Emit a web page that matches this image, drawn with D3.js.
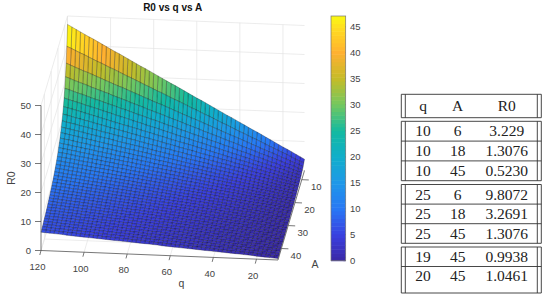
<!DOCTYPE html>
<html>
<head>
<meta charset="utf-8">
<title>R0 vs q vs A</title>
<script src="https://d3js.org/d3.v7.min.js"></script>
<style>
  html, body { margin: 0; padding: 0; background: #fff; }
  svg { display: block; }
</style>
</head>
<body>
<div id="chart"></div>
<script>
const qValues = [10,12,14,16,18,20,22,24,26,28,30,32,34,36,38,40,42,44,46,48,50,52,54,56,58,60,62,64,66,68,70,72,74,76,78,80,82,84,86,88,90,92,94,96,98,100,102,104,106,108,110,112,114,116,118,120];
const aValues = [6,7,8,9,10,11,12,13,14,15,16,17,18,19,20,21,22,23,24,25,26,27,28,29,30,31,32,33,34,35,36,37,38,39,40,41,42,43,44,45];
// one row per A value, one column per q value
const r0Rows = [
[3.9,4.7,5.5,6.3,7.1,7.8,8.6,9.4,10.2,11.0,11.8,12.6,13.3,14.1,14.9,15.7,16.5,17.3,18.0,18.8,19.6,20.4,21.2,22.0,22.8,23.5,24.3,25.1,25.9,26.7,27.5,28.2,29.0,29.8,30.6,31.4,32.2,33.0,33.7,34.5,35.3,36.1,36.9,37.7,38.4,39.2,40.0,40.8,41.6,42.4,43.1,43.9,44.7,45.5,46.3,47.1],
[3.4,4.0,4.7,5.4,6.1,6.7,7.4,8.1,8.7,9.4,10.1,10.8,11.4,12.1,12.8,13.4,14.1,14.8,15.5,16.1,16.8,17.5,18.2,18.8,19.5,20.2,20.8,21.5,22.2,22.9,23.5,24.2,24.9,25.6,26.2,26.9,27.6,28.2,28.9,29.6,30.3,30.9,31.6,32.3,33.0,33.6,34.3,35.0,35.6,36.3,37.0,37.7,38.3,39.0,39.7,40.3],
[2.9,3.5,4.1,4.7,5.3,5.9,6.5,7.1,7.6,8.2,8.8,9.4,10.0,10.6,11.2,11.8,12.4,12.9,13.5,14.1,14.7,15.3,15.9,16.5,17.1,17.7,18.2,18.8,19.4,20.0,20.6,21.2,21.8,22.4,22.9,23.5,24.1,24.7,25.3,25.9,26.5,27.1,27.7,28.2,28.8,29.4,30.0,30.6,31.2,31.8,32.4,32.9,33.5,34.1,34.7,35.3],
[2.6,3.1,3.7,4.2,4.7,5.2,5.8,6.3,6.8,7.3,7.8,8.4,8.9,9.4,9.9,10.5,11.0,11.5,12.0,12.6,13.1,13.6,14.1,14.6,15.2,15.7,16.2,16.7,17.3,17.8,18.3,18.8,19.4,19.9,20.4,20.9,21.4,22.0,22.5,23.0,23.5,24.1,24.6,25.1,25.6,26.2,26.7,27.2,27.7,28.2,28.8,29.3,29.8,30.3,30.9,31.4],
[2.4,2.8,3.3,3.8,4.2,4.7,5.2,5.6,6.1,6.6,7.1,7.5,8.0,8.5,8.9,9.4,9.9,10.4,10.8,11.3,11.8,12.2,12.7,13.2,13.7,14.1,14.6,15.1,15.5,16.0,16.5,16.9,17.4,17.9,18.4,18.8,19.3,19.8,20.2,20.7,21.2,21.7,22.1,22.6,23.1,23.5,24.0,24.5,24.9,25.4,25.9,26.4,26.8,27.3,27.8,28.2],
[2.1,2.6,3.0,3.4,3.9,4.3,4.7,5.1,5.6,6.0,6.4,6.8,7.3,7.7,8.1,8.6,9.0,9.4,9.8,10.3,10.7,11.1,11.6,12.0,12.4,12.8,13.3,13.7,14.1,14.5,15.0,15.4,15.8,16.3,16.7,17.1,17.5,18.0,18.4,18.8,19.3,19.7,20.1,20.5,21.0,21.4,21.8,22.3,22.7,23.1,23.5,24.0,24.4,24.8,25.2,25.7],
[2.0,2.4,2.7,3.1,3.5,3.9,4.3,4.7,5.1,5.5,5.9,6.3,6.7,7.1,7.5,7.8,8.2,8.6,9.0,9.4,9.8,10.2,10.6,11.0,11.4,11.8,12.2,12.6,12.9,13.3,13.7,14.1,14.5,14.9,15.3,15.7,16.1,16.5,16.9,17.3,17.7,18.0,18.4,18.8,19.2,19.6,20.0,20.4,20.8,21.2,21.6,22.0,22.4,22.8,23.1,23.5],
[1.8,2.2,2.5,2.9,3.3,3.6,4.0,4.3,4.7,5.1,5.4,5.8,6.2,6.5,6.9,7.2,7.6,8.0,8.3,8.7,9.1,9.4,9.8,10.1,10.5,10.9,11.2,11.6,11.9,12.3,12.7,13.0,13.4,13.8,14.1,14.5,14.8,15.2,15.6,15.9,16.3,16.7,17.0,17.4,17.7,18.1,18.5,18.8,19.2,19.6,19.9,20.3,20.6,21.0,21.4,21.7],
[1.7,2.0,2.4,2.7,3.0,3.4,3.7,4.0,4.4,4.7,5.0,5.4,5.7,6.1,6.4,6.7,7.1,7.4,7.7,8.1,8.4,8.7,9.1,9.4,9.8,10.1,10.4,10.8,11.1,11.4,11.8,12.1,12.4,12.8,13.1,13.4,13.8,14.1,14.5,14.8,15.1,15.5,15.8,16.1,16.5,16.8,17.1,17.5,17.8,18.2,18.5,18.8,19.2,19.5,19.8,20.2],
[1.6,1.9,2.2,2.5,2.8,3.1,3.5,3.8,4.1,4.4,4.7,5.0,5.3,5.6,6.0,6.3,6.6,6.9,7.2,7.5,7.8,8.2,8.5,8.8,9.1,9.4,9.7,10.0,10.4,10.7,11.0,11.3,11.6,11.9,12.2,12.6,12.9,13.2,13.5,13.8,14.1,14.4,14.7,15.1,15.4,15.7,16.0,16.3,16.6,16.9,17.3,17.6,17.9,18.2,18.5,18.8],
[1.5,1.8,2.1,2.4,2.6,2.9,3.2,3.5,3.8,4.1,4.4,4.7,5.0,5.3,5.6,5.9,6.2,6.5,6.8,7.1,7.4,7.6,7.9,8.2,8.5,8.8,9.1,9.4,9.7,10.0,10.3,10.6,10.9,11.2,11.5,11.8,12.1,12.4,12.7,12.9,13.2,13.5,13.8,14.1,14.4,14.7,15.0,15.3,15.6,15.9,16.2,16.5,16.8,17.1,17.4,17.7],
[1.4,1.7,1.9,2.2,2.5,2.8,3.0,3.3,3.6,3.9,4.2,4.4,4.7,5.0,5.3,5.5,5.8,6.1,6.4,6.6,6.9,7.2,7.5,7.8,8.0,8.3,8.6,8.9,9.1,9.4,9.7,10.0,10.2,10.5,10.8,11.1,11.4,11.6,11.9,12.2,12.5,12.7,13.0,13.3,13.6,13.8,14.1,14.4,14.7,15.0,15.2,15.5,15.8,16.1,16.3,16.6],
[1.3,1.6,1.8,2.1,2.4,2.6,2.9,3.1,3.4,3.7,3.9,4.2,4.4,4.7,5.0,5.2,5.5,5.8,6.0,6.3,6.5,6.8,7.1,7.3,7.6,7.8,8.1,8.4,8.6,8.9,9.2,9.4,9.7,9.9,10.2,10.5,10.7,11.0,11.2,11.5,11.8,12.0,12.3,12.6,12.8,13.1,13.3,13.6,13.9,14.1,14.4,14.6,14.9,15.2,15.4,15.7],
[1.2,1.5,1.7,2.0,2.2,2.5,2.7,3.0,3.2,3.5,3.7,4.0,4.2,4.5,4.7,5.0,5.2,5.5,5.7,5.9,6.2,6.4,6.7,6.9,7.2,7.4,7.7,7.9,8.2,8.4,8.7,8.9,9.2,9.4,9.7,9.9,10.2,10.4,10.7,10.9,11.1,11.4,11.6,11.9,12.1,12.4,12.6,12.9,13.1,13.4,13.6,13.9,14.1,14.4,14.6,14.9],
[1.2,1.4,1.6,1.9,2.1,2.4,2.6,2.8,3.1,3.3,3.5,3.8,4.0,4.2,4.5,4.7,4.9,5.2,5.4,5.6,5.9,6.1,6.4,6.6,6.8,7.1,7.3,7.5,7.8,8.0,8.2,8.5,8.7,8.9,9.2,9.4,9.6,9.9,10.1,10.4,10.6,10.8,11.1,11.3,11.5,11.8,12.0,12.2,12.5,12.7,12.9,13.2,13.4,13.7,13.9,14.1],
[1.1,1.3,1.6,1.8,2.0,2.2,2.5,2.7,2.9,3.1,3.4,3.6,3.8,4.0,4.3,4.5,4.7,4.9,5.2,5.4,5.6,5.8,6.1,6.3,6.5,6.7,6.9,7.2,7.4,7.6,7.8,8.1,8.3,8.5,8.7,9.0,9.2,9.4,9.6,9.9,10.1,10.3,10.5,10.8,11.0,11.2,11.4,11.7,11.9,12.1,12.3,12.6,12.8,13.0,13.2,13.4],
[1.1,1.3,1.5,1.7,1.9,2.1,2.4,2.6,2.8,3.0,3.2,3.4,3.6,3.9,4.1,4.3,4.5,4.7,4.9,5.1,5.3,5.6,5.8,6.0,6.2,6.4,6.6,6.8,7.1,7.3,7.5,7.7,7.9,8.1,8.3,8.6,8.8,9.0,9.2,9.4,9.6,9.8,10.1,10.3,10.5,10.7,10.9,11.1,11.3,11.6,11.8,12.0,12.2,12.4,12.6,12.8],
[1.0,1.2,1.4,1.6,1.8,2.0,2.3,2.5,2.7,2.9,3.1,3.3,3.5,3.7,3.9,4.1,4.3,4.5,4.7,4.9,5.1,5.3,5.5,5.7,5.9,6.1,6.3,6.5,6.8,7.0,7.2,7.4,7.6,7.8,8.0,8.2,8.4,8.6,8.8,9.0,9.2,9.4,9.6,9.8,10.0,10.2,10.4,10.6,10.8,11.1,11.3,11.5,11.7,11.9,12.1,12.3],
[1.0,1.2,1.4,1.6,1.8,2.0,2.2,2.4,2.5,2.7,2.9,3.1,3.3,3.5,3.7,3.9,4.1,4.3,4.5,4.7,4.9,5.1,5.3,5.5,5.7,5.9,6.1,6.3,6.5,6.7,6.9,7.1,7.3,7.5,7.6,7.8,8.0,8.2,8.4,8.6,8.8,9.0,9.2,9.4,9.6,9.8,10.0,10.2,10.4,10.6,10.8,11.0,11.2,11.4,11.6,11.8],
[0.9,1.1,1.3,1.5,1.7,1.9,2.1,2.3,2.4,2.6,2.8,3.0,3.2,3.4,3.6,3.8,4.0,4.1,4.3,4.5,4.7,4.9,5.1,5.3,5.5,5.6,5.8,6.0,6.2,6.4,6.6,6.8,7.0,7.2,7.3,7.5,7.7,7.9,8.1,8.3,8.5,8.7,8.9,9.0,9.2,9.4,9.6,9.8,10.0,10.2,10.4,10.5,10.7,10.9,11.1,11.3],
[0.9,1.1,1.3,1.4,1.6,1.8,2.0,2.2,2.4,2.5,2.7,2.9,3.1,3.3,3.4,3.6,3.8,4.0,4.2,4.3,4.5,4.7,4.9,5.1,5.3,5.4,5.6,5.8,6.0,6.2,6.3,6.5,6.7,6.9,7.1,7.2,7.4,7.6,7.8,8.0,8.1,8.3,8.5,8.7,8.9,9.1,9.2,9.4,9.6,9.8,10.0,10.1,10.3,10.5,10.7,10.9],
[0.9,1.0,1.2,1.4,1.6,1.7,1.9,2.1,2.3,2.4,2.6,2.8,3.0,3.1,3.3,3.5,3.7,3.8,4.0,4.2,4.4,4.5,4.7,4.9,5.1,5.2,5.4,5.6,5.8,5.9,6.1,6.3,6.5,6.6,6.8,7.0,7.1,7.3,7.5,7.7,7.8,8.0,8.2,8.4,8.5,8.7,8.9,9.1,9.2,9.4,9.6,9.8,9.9,10.1,10.3,10.5],
[0.8,1.0,1.2,1.3,1.5,1.7,1.8,2.0,2.2,2.4,2.5,2.7,2.9,3.0,3.2,3.4,3.5,3.7,3.9,4.0,4.2,4.4,4.5,4.7,4.9,5.0,5.2,5.4,5.5,5.7,5.9,6.1,6.2,6.4,6.6,6.7,6.9,7.1,7.2,7.4,7.6,7.7,7.9,8.1,8.2,8.4,8.6,8.7,8.9,9.1,9.2,9.4,9.6,9.8,9.9,10.1],
[0.8,1.0,1.1,1.3,1.5,1.6,1.8,1.9,2.1,2.3,2.4,2.6,2.8,2.9,3.1,3.2,3.4,3.6,3.7,3.9,4.1,4.2,4.4,4.5,4.7,4.9,5.0,5.2,5.4,5.5,5.7,5.8,6.0,6.2,6.3,6.5,6.7,6.8,7.0,7.1,7.3,7.5,7.6,7.8,8.0,8.1,8.3,8.4,8.6,8.8,8.9,9.1,9.3,9.4,9.6,9.7],
[0.8,0.9,1.1,1.3,1.4,1.6,1.7,1.9,2.0,2.2,2.4,2.5,2.7,2.8,3.0,3.1,3.3,3.5,3.6,3.8,3.9,4.1,4.2,4.4,4.6,4.7,4.9,5.0,5.2,5.3,5.5,5.6,5.8,6.0,6.1,6.3,6.4,6.6,6.7,6.9,7.1,7.2,7.4,7.5,7.7,7.8,8.0,8.2,8.3,8.5,8.6,8.8,8.9,9.1,9.3,9.4],
[0.8,0.9,1.1,1.2,1.4,1.5,1.7,1.8,2.0,2.1,2.3,2.4,2.6,2.7,2.9,3.0,3.2,3.3,3.5,3.6,3.8,3.9,4.1,4.3,4.4,4.6,4.7,4.9,5.0,5.2,5.3,5.5,5.6,5.8,5.9,6.1,6.2,6.4,6.5,6.7,6.8,7.0,7.1,7.3,7.4,7.6,7.7,7.9,8.0,8.2,8.4,8.5,8.7,8.8,9.0,9.1],
[0.7,0.9,1.0,1.2,1.3,1.5,1.6,1.8,1.9,2.1,2.2,2.4,2.5,2.6,2.8,2.9,3.1,3.2,3.4,3.5,3.7,3.8,4.0,4.1,4.3,4.4,4.6,4.7,4.9,5.0,5.1,5.3,5.4,5.6,5.7,5.9,6.0,6.2,6.3,6.5,6.6,6.8,6.9,7.1,7.2,7.4,7.5,7.6,7.8,7.9,8.1,8.2,8.4,8.5,8.7,8.8],
[0.7,0.9,1.0,1.1,1.3,1.4,1.6,1.7,1.9,2.0,2.1,2.3,2.4,2.6,2.7,2.9,3.0,3.1,3.3,3.4,3.6,3.7,3.9,4.0,4.1,4.3,4.4,4.6,4.7,4.8,5.0,5.1,5.3,5.4,5.6,5.7,5.8,6.0,6.1,6.3,6.4,6.6,6.7,6.8,7.0,7.1,7.3,7.4,7.6,7.7,7.8,8.0,8.1,8.3,8.4,8.6],
[0.7,0.8,1.0,1.1,1.2,1.4,1.5,1.7,1.8,1.9,2.1,2.2,2.4,2.5,2.6,2.8,2.9,3.0,3.2,3.3,3.5,3.6,3.7,3.9,4.0,4.2,4.3,4.4,4.6,4.7,4.8,5.0,5.1,5.3,5.4,5.5,5.7,5.8,6.0,6.1,6.2,6.4,6.5,6.6,6.8,6.9,7.1,7.2,7.3,7.5,7.6,7.8,7.9,8.0,8.2,8.3],
[0.7,0.8,0.9,1.1,1.2,1.3,1.5,1.6,1.7,1.9,2.0,2.2,2.3,2.4,2.6,2.7,2.8,3.0,3.1,3.2,3.4,3.5,3.6,3.8,3.9,4.0,4.2,4.3,4.4,4.6,4.7,4.8,5.0,5.1,5.2,5.4,5.5,5.6,5.8,5.9,6.1,6.2,6.3,6.5,6.6,6.7,6.9,7.0,7.1,7.3,7.4,7.5,7.7,7.8,7.9,8.1],
[0.7,0.8,0.9,1.0,1.2,1.3,1.4,1.6,1.7,1.8,2.0,2.1,2.2,2.4,2.5,2.6,2.7,2.9,3.0,3.1,3.3,3.4,3.5,3.7,3.8,3.9,4.1,4.2,4.3,4.4,4.6,4.7,4.8,5.0,5.1,5.2,5.4,5.5,5.6,5.8,5.9,6.0,6.1,6.3,6.4,6.5,6.7,6.8,6.9,7.1,7.2,7.3,7.5,7.6,7.7,7.8],
[0.6,0.8,0.9,1.0,1.1,1.3,1.4,1.5,1.7,1.8,1.9,2.0,2.2,2.3,2.4,2.5,2.7,2.8,2.9,3.1,3.2,3.3,3.4,3.6,3.7,3.8,3.9,4.1,4.2,4.3,4.5,4.6,4.7,4.8,5.0,5.1,5.2,5.3,5.5,5.6,5.7,5.9,6.0,6.1,6.2,6.4,6.5,6.6,6.7,6.9,7.0,7.1,7.3,7.4,7.5,7.6],
[0.6,0.7,0.9,1.0,1.1,1.2,1.4,1.5,1.6,1.7,1.9,2.0,2.1,2.2,2.4,2.5,2.6,2.7,2.8,3.0,3.1,3.2,3.3,3.5,3.6,3.7,3.8,4.0,4.1,4.2,4.3,4.5,4.6,4.7,4.8,5.0,5.1,5.2,5.3,5.5,5.6,5.7,5.8,5.9,6.1,6.2,6.3,6.4,6.6,6.7,6.8,6.9,7.1,7.2,7.3,7.4],
[0.6,0.7,0.8,1.0,1.1,1.2,1.3,1.4,1.6,1.7,1.8,1.9,2.1,2.2,2.3,2.4,2.5,2.7,2.8,2.9,3.0,3.1,3.3,3.4,3.5,3.6,3.7,3.9,4.0,4.1,4.2,4.3,4.5,4.6,4.7,4.8,4.9,5.1,5.2,5.3,5.4,5.6,5.7,5.8,5.9,6.0,6.2,6.3,6.4,6.5,6.6,6.8,6.9,7.0,7.1,7.2],
[0.6,0.7,0.8,0.9,1.1,1.2,1.3,1.4,1.5,1.6,1.8,1.9,2.0,2.1,2.2,2.4,2.5,2.6,2.7,2.8,2.9,3.1,3.2,3.3,3.4,3.5,3.6,3.8,3.9,4.0,4.1,4.2,4.4,4.5,4.6,4.7,4.8,4.9,5.1,5.2,5.3,5.4,5.5,5.6,5.8,5.9,6.0,6.1,6.2,6.4,6.5,6.6,6.7,6.8,6.9,7.1],
[0.6,0.7,0.8,0.9,1.0,1.1,1.3,1.4,1.5,1.6,1.7,1.8,2.0,2.1,2.2,2.3,2.4,2.5,2.6,2.8,2.9,3.0,3.1,3.2,3.3,3.4,3.6,3.7,3.8,3.9,4.0,4.1,4.2,4.4,4.5,4.6,4.7,4.8,4.9,5.1,5.2,5.3,5.4,5.5,5.6,5.7,5.9,6.0,6.1,6.2,6.3,6.4,6.5,6.7,6.8,6.9],
[0.6,0.7,0.8,0.9,1.0,1.1,1.2,1.3,1.5,1.6,1.7,1.8,1.9,2.0,2.1,2.2,2.4,2.5,2.6,2.7,2.8,2.9,3.0,3.1,3.3,3.4,3.5,3.6,3.7,3.8,3.9,4.0,4.1,4.3,4.4,4.5,4.6,4.7,4.8,4.9,5.0,5.2,5.3,5.4,5.5,5.6,5.7,5.8,5.9,6.1,6.2,6.3,6.4,6.5,6.6,6.7],
[0.5,0.7,0.8,0.9,1.0,1.1,1.2,1.3,1.4,1.5,1.6,1.8,1.9,2.0,2.1,2.2,2.3,2.4,2.5,2.6,2.7,2.8,3.0,3.1,3.2,3.3,3.4,3.5,3.6,3.7,3.8,3.9,4.1,4.2,4.3,4.4,4.5,4.6,4.7,4.8,4.9,5.0,5.1,5.3,5.4,5.5,5.6,5.7,5.8,5.9,6.0,6.1,6.2,6.3,6.5,6.6],
[0.5,0.6,0.7,0.9,1.0,1.1,1.2,1.3,1.4,1.5,1.6,1.7,1.8,1.9,2.0,2.1,2.2,2.4,2.5,2.6,2.7,2.8,2.9,3.0,3.1,3.2,3.3,3.4,3.5,3.6,3.7,3.9,4.0,4.1,4.2,4.3,4.4,4.5,4.6,4.7,4.8,4.9,5.0,5.1,5.2,5.3,5.5,5.6,5.7,5.8,5.9,6.0,6.1,6.2,6.3,6.4],
[0.5,0.6,0.7,0.8,0.9,1.0,1.2,1.3,1.4,1.5,1.6,1.7,1.8,1.9,2.0,2.1,2.2,2.3,2.4,2.5,2.6,2.7,2.8,2.9,3.0,3.1,3.2,3.3,3.5,3.6,3.7,3.8,3.9,4.0,4.1,4.2,4.3,4.4,4.5,4.6,4.7,4.8,4.9,5.0,5.1,5.2,5.3,5.4,5.5,5.6,5.8,5.9,6.0,6.1,6.2,6.3]
];
const qTicks = [20,40,60,80,100,120];
const aTicks = [10,20,30,40];
const zTicks = [0,10,20,30,40,50];
const barTicks = [0,5,10,15,20,25,30,35,40,45];
const tableGroups = [
  [["q","A","R0"]],
  [["10","6","3.229"],["10","18","1.3076"],["10","45","0.5230"]],
  [["25","6","9.8072"],["25","18","3.2691"],["25","45","1.3076"]],
  [["19","45","0.9938"],["20","45","1.0461"]]
];
const colorLevels = [0,5,10,15,20,25,30,35,40,45,47.07];
const colorStops = ["#3a28a5","#3a40e0","#2878f5","#1e98e8","#10aecb","#14baa0","#72c860","#c4bc28","#ffb030","#ffdf20","#fafa10"];

const svg = d3.select("#chart").append("svg").attr("width",550).attr("height",302);
const ox = 41, oy = 250.5;
const qX = d3.scaleLinear().domain([120,10]).range([0,237]);
const qY = d3.scaleLinear().domain([120,10]).range([0,9.5]);
const aX = d3.scaleLinear().domain([45,6]).range([0,26.5]);
const aY = d3.scaleLinear().domain([45,6]).range([0,-89.5]);
const zY = d3.scaleLinear().domain([0,50]).range([0,-145]);
const px = (q,a) => ox + qX(q) + aX(a);
const py = (q,a,z) => oy + qY(q) + aY(a) + zY(z);

const color = d3.scaleLinear().domain(colorLevels).range(colorStops);

// back planes grid
const grid = svg.append("g").attr("stroke","#e4e4e4").attr("stroke-width",0.7).attr("fill","none");
function seg(x1,y1,x2,y2,g){ (g||grid).append("line").attr("x1",x1).attr("y1",y1).attr("x2",x2).attr("y2",y2); }
zTicks.forEach(z => {
  seg(px(120,45),py(120,45,z),px(120,6),py(120,6,z));
  seg(px(120,6),py(120,6,z),px(10,6),py(10,6,z));
});
qTicks.forEach(q => {
  seg(px(q,6),py(q,6,0),px(q,6),py(q,6,50));
  seg(px(q,6),py(q,6,0),px(q,45),py(q,45,0));
});
aTicks.forEach(a => {
  seg(px(120,a),py(120,a,0),px(120,a),py(120,a,50));
  seg(px(120,a),py(120,a,0),px(10,a),py(10,a,0));
});
seg(px(120,6),py(120,6,0),px(120,6),py(120,6,50));

// surface, one flat colored cell per grid square
const cells = [];
aValues.slice(0,-1).forEach((a,i) => {
  qValues.slice(0,-1).forEach((q,j) => {
    const a2 = aValues[i+1], q2 = qValues[j+1];
    cells.push({v:r0Rows[i][j], pts:[
      [px(q,a),py(q,a,r0Rows[i][j])],
      [px(q2,a),py(q2,a,r0Rows[i][j+1])],
      [px(q2,a2),py(q2,a2,r0Rows[i+1][j+1])],
      [px(q,a2),py(q,a2,r0Rows[i+1][j])]
    ]});
  });
});
svg.append("g").selectAll("polygon").data(cells).join("polygon")
  .attr("points", d => d.pts.join(" "))
  .attr("fill", d => color(d.v))
  .attr("stroke","#000").attr("stroke-opacity",0.5).attr("stroke-width",0.5);

// axes
const axisCol = "#555";
const axes = svg.append("g").attr("stroke",axisCol).attr("stroke-width",0.8).attr("fill","none");
seg(px(120,45),py(120,45,0),px(10,45),py(10,45,0),axes);
seg(px(10,45),py(10,45,0),px(10,6),py(10,6,0),axes);
seg(px(120,45),py(120,45,0),px(120,45),py(120,45,50),axes);
const font = "'Liberation Sans', Arial, sans-serif";
const labels = svg.append("g").attr("font-family",font).attr("font-size",9.5).attr("fill","#444");
qTicks.forEach(q => {
  const x = px(q,45), y = py(q,45,0);
  seg(x,y,x-1.2,y+4.5,axes);
  labels.append("text").attr("x",x-3.5).attr("y",y+19.5).attr("text-anchor","middle").text(q);
});
aTicks.forEach(a => {
  const x = px(10,a), y = py(10,a,0);
  seg(x,y,x+7,y+0.3,axes);
  labels.append("text").attr("x",x+14.5).attr("y",y+10.5).attr("text-anchor","middle").text(a);
});
zTicks.forEach(z => {
  const x = px(120,45), y = py(120,45,z);
  seg(x,y,x-6,y,axes);
  labels.append("text").attr("x",x-10).attr("y",y+3.3).attr("text-anchor","end").text(z);
});
labels.append("text").attr("x",181.5).attr("y",287).attr("text-anchor","middle").attr("font-size",10.5).text("q");
labels.append("text").attr("x",315).attr("y",268).attr("text-anchor","middle").attr("font-size",10.5).text("A");
labels.append("text").attr("transform","translate(15,178) rotate(-90)").attr("text-anchor","middle").attr("font-size",10.5).text("R0");
svg.append("text").attr("x",172.7).attr("y",11.3).attr("text-anchor","middle").attr("font-family",font)
  .attr("font-size",10).attr("font-weight","bold").attr("fill","#111").text("R0 vs q vs A");

// colorbar
const barY = d3.scaleLinear().domain([0,47.07]).range([260.7,16]);
const levels = d3.range(64).map(i => i*47.07/64);
const bar = svg.append("g");
bar.selectAll("rect").data(levels).join("rect")
  .attr("x",331).attr("width",14.7)
  .attr("y",d => barY(d+47.07/64)).attr("height",d => barY(d)-barY(d+47.07/64)+0.5)
  .attr("fill",d => color(d+47.07/128));
bar.append("rect").attr("x",331).attr("y",16).attr("width",14.7).attr("height",244.7).attr("fill","none").attr("stroke","#777").attr("stroke-width",0.7);
barTicks.forEach(t => {
  seg(343.5,barY(t),345.7,barY(t),axes);
  labels.append("text").attr("x",350).attr("y",barY(t)+3.2).text(t);
});

// table
const colX = [423,457.7,506.7];
const table = svg.append("g").attr("font-family","'Liberation Serif', serif").attr("font-size",15.5).attr("fill","#222");
const line = svg.append("g").attr("stroke","#333").attr("stroke-width",0.9);
const groupTops = [94.3,121.3,184.5,247];
const rowH = [23.4,19.8,19.6,19.5];
const groupBottoms = [117.7,180.7,243.3,293];
tableGroups.forEach((rows,g) => {
  const top = groupTops[g], h = rowH[g], bottom = groupBottoms[g];
  [401.3,405.3,537.3,541.3].forEach(x => seg(x,top,x,bottom,line));
  d3.range(rows.length).forEach(i => seg(401.3,top+i*h,541.3,top+i*h,line));
  seg(401.3,bottom,541.3,bottom,line);
  rows.forEach((r,i) => r.forEach((t,c) => {
    table.append("text").attr("x",colX[c]).attr("y",top+i*h+h/2+5.2).attr("text-anchor","middle").text(t);
  }));
});
</script>
</body>
</html>
